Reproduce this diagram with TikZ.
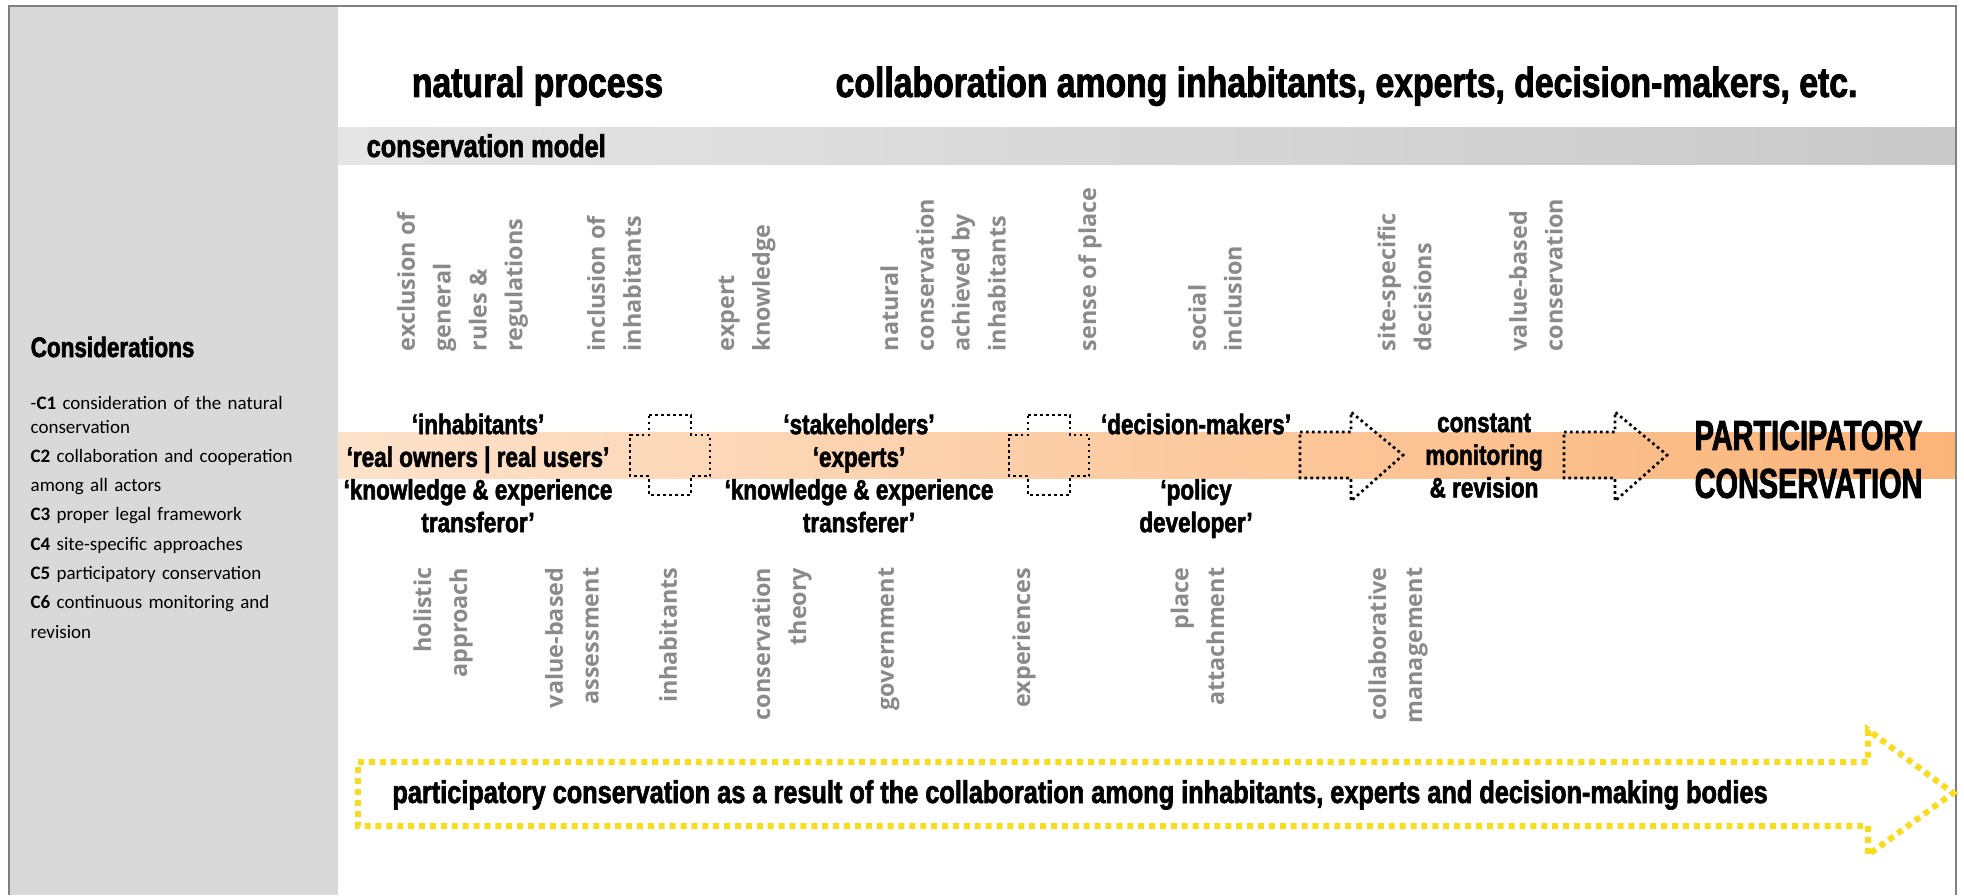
\documentclass[tikz,border=0pt]{standalone}
\usepackage{fontspec}
\setmainfont{Carlito}
\newfontfamily\impact{Liberation Sans}[UprightFont={* Bold},FakeStretch=0.8,FakeBold=2]
\newfontfamily\impactcaps{Liberation Sans}[UprightFont={* Bold},FakeStretch=0.69,FakeBold=2]
\IfFontExistsTF{Open Sans SemiBold}
  {\newfontfamily\termfont{Open Sans SemiBold}[FakeBold=1.2]}
  {\newfontfamily\termfont{Open Sans}[UprightFont={* Bold}]}
\definecolor{panelgray}{HTML}{D9D9D9}
\definecolor{framegray}{HTML}{808080}
\definecolor{bandL}{HTML}{E5E5E5}
\definecolor{bandR}{HTML}{C9C9C9}
\definecolor{peachL}{HTML}{FDE2CB}
\definecolor{peachR}{HTML}{FBB478}
\definecolor{termgray}{HTML}{8A8A8A}
\definecolor{dotyellow}{HTML}{F8DC1E}
\tikzset{
  topterm/.style={rotate=90,anchor=west,align=left,inner sep=0pt,text=termgray,
    font=\termfont\fontsize{6.65}{10.2}\selectfont},
  botterm/.style={rotate=90,anchor=east,align=right,inner sep=0pt,text=termgray,
    font=\termfont\fontsize{6.65}{10.2}\selectfont},
  roletext/.style={anchor=north,align=center,inner sep=0pt,
    font=\impact\fontsize{8}{9.3}\selectfont},
  headtext/.style={anchor=base,inner sep=0pt,font=\impact\fontsize{12}{14}\selectfont},
  dotline/.style={line width=0.77pt,dash pattern=on 0.77pt off 0.93pt},
  yellowdots/.style={dotyellow,line width=1.7pt,dash pattern=on 1.7pt off 1.4pt}
}
\begin{document}
\begin{tikzpicture}[x=1cm,y=-1cm]
    \useasboundingbox (0,0) rectangle (19.64,8.95);
    % panel, bands and frame
    \fill[panelgray] (0.09,0.06) rectangle (3.38,8.95);
    \shade[left color=bandL,right color=bandR] (3.38,1.28) rectangle (19.56,1.65);
    \shade[left color=peachL,right color=peachR] (3.38,4.32) rectangle (19.56,4.78);
    \draw[framegray,line width=0.6pt] (0.09,8.95)--(0.09,0.06)--(19.56,0.06)--(19.56,8.95);
    % headings
    \node[headtext] (natural) at (5.375,0.97) {natural process};
    \node[headtext] (collab) at (13.465,0.97) {collaboration among inhabitants, experts, decision-makers, etc.};
    \node[anchor=base west,inner sep=0pt,font=\impact\fontsize{9}{10}\selectfont] (model) at (3.66,1.57) {conservation model};
    % considerations
    \node[anchor=base west,inner sep=0pt,font=\impact\fontsize{8}{10}\selectfont] (consid) at (0.30,3.57) {Considerations};
    \node[anchor=north west,inner sep=0pt,text width=2.9cm,align=left,font=\fontsize{5.4}{8.33}\selectfont] (items) at (0.30,3.96)
      {-\textbf{C1} consideration of the natural\\[-0.06cm]
       conservation\\
       \textbf{C2} collaboration and cooperation\\
       among all actors\\
       \textbf{C3} proper legal framework\\
       \textbf{C4} site-specific approaches\\
       \textbf{C5} participatory conservation\\
       \makebox[2.63cm][s]{\textbf{C6} continuous monitoring and}\\
       revision};
    % terms above the band
    \node[topterm] (exclusion) at (4.625,3.52) {exclusion of\\general\\rules \&\\regulations};
    \node[topterm] (inclusion) at (6.14,3.52) {inclusion of\\inhabitants};
    \node[topterm] (expert) at (7.47,3.52) {expert\\knowledge};
    \node[topterm] (natcons) at (9.43,3.52) {natural\\conservation\\achieved by\\inhabitants};
    \node[topterm] (sense) at (10.90,3.52) {sense of place};
    \node[topterm] (social) at (12.15,3.52) {social\\inclusion};
    \node[topterm] (site) at (14.045,3.52) {site-specific\\decisions};
    \node[topterm] (valcons) at (15.36,3.52) {value-based\\conservation};
    % terms below the band
    \node[botterm] (holistic) at (4.43,5.67) {holistic\\approach};
    \node[botterm] (valassess) at (5.72,5.67) {value-based\\assessment};
    \node[botterm] (inhab) at (6.68,5.67) {inhabitants};
    \node[botterm] (theory) at (7.82,5.67) {conservation\\theory};
    \node[botterm] (govern) at (8.89,5.67) {government};
    \node[botterm] (exper) at (10.24,5.67) {experiences};
    \node[botterm] (attach) at (11.975,5.67) {place\\attachment};
    \node[botterm] (collman) at (13.98,5.67) {collaborative\\management};
    % actors on the band
    \node[roletext] (owners) at (4.78,4.13) {‘inhabitants’\\‘real owners | real users’\\‘knowledge \& experience\\transferor’};
    \node[roletext] (experts) at (8.59,4.13) {‘stakeholders’\\‘experts’\\‘knowledge \& experience\\transferer’};
    \node[roletext] (makers) at (11.96,4.13) {‘decision-makers’\\[9.3pt]‘policy\\developer’};
    \node[roletext] (monitor) at (14.84,4.13) {constant\\monitoring\\\& revision};
    \node[anchor=north west,align=left,inner sep=0pt,font=\impactcaps\fontsize{11.9}{13.65}\selectfont] (goal) at (16.94,4.20) {PARTICIPATORY\\CONSERVATION};
    % dotted crosses and arrows
    \foreach \cx in {6.70,10.49}
      \draw[dotline] (\cx-0.21,4.15)--(\cx+0.21,4.15)--(\cx+0.21,4.35)--(\cx+0.40,4.35)--(\cx+0.40,4.76)--(\cx+0.21,4.76)
        --(\cx+0.21,4.95)--(\cx-0.21,4.95)--(\cx-0.21,4.76)--(\cx-0.40,4.76)--(\cx-0.40,4.35)--(\cx-0.21,4.35)--cycle;
    \foreach \ax in {13.00,15.64}
      \draw[dotline] (\ax,4.32)--(\ax+0.51,4.32)--(\ax+0.51,4.12)--(\ax+1.03,4.55)--(\ax+0.51,5.01)--(\ax+0.51,4.78)--(\ax,4.78)--cycle;
    % result arrow
    \draw[yellowdots] (3.58,7.62)--(18.68,7.62)--(18.68,7.30)--(19.53,7.93)--(18.68,8.55)--(18.68,8.26)--(3.58,8.26)--cycle;
    \node[anchor=base,inner sep=0pt,font=\impact\fontsize{9}{10}\selectfont] (result) at (10.80,8.03)
      {participatory conservation as a result of the collaboration among inhabitants, experts and decision-making bodies};
\end{tikzpicture}
\end{document}
